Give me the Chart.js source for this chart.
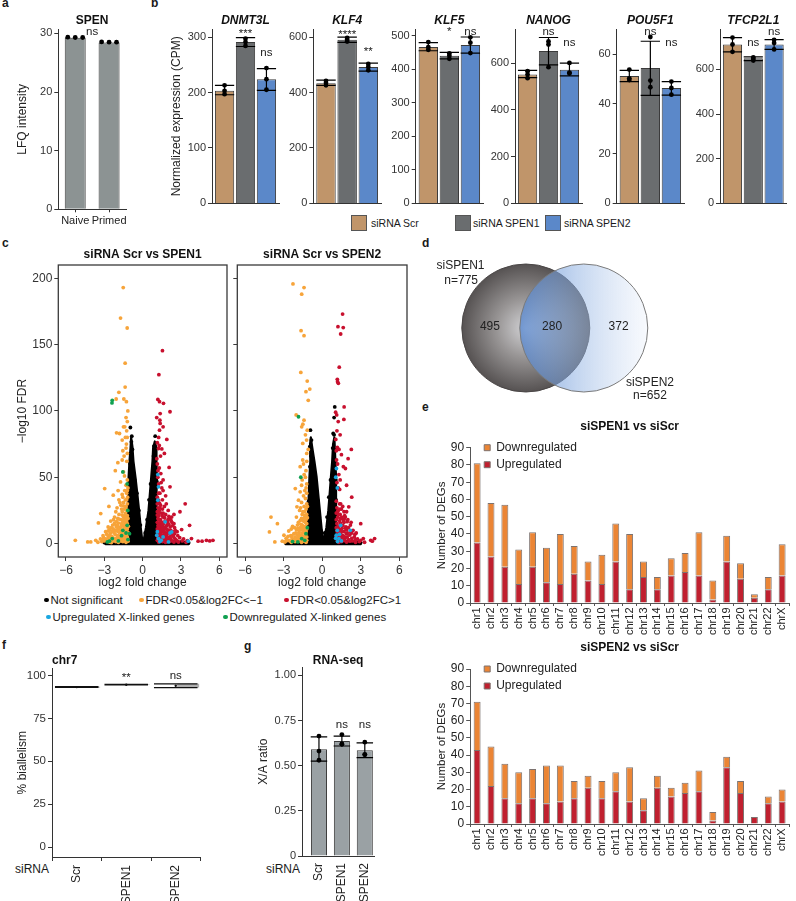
<!DOCTYPE html>
<html>
<head>
<meta charset="utf-8">
<title>SPEN knockdown figure</title>
<script src="https://cdn.jsdelivr.net/npm/chart.js@4.4.1/dist/chart.umd.min.js"></script>
<style>
html,body{margin:0;padding:0;background:#fff}
body{width:796px;height:901px;position:relative;overflow:hidden;font-family:'Liberation Sans',Arial,Helvetica,sans-serif;color:#1a1a1a}
canvas{position:absolute}
.t{position:absolute;white-space:nowrap;font-size:11px;line-height:14px}
.pl{font-weight:bold;font-size:12px}
.sw{position:absolute;width:16px;height:16px;border:1px solid #555;box-sizing:border-box}
.bl{font-size:10.5px}
.leg{position:absolute;display:flex;align-items:center;white-space:nowrap;font-size:11.5px;line-height:14px}
.leg i{display:inline-block;width:4.5px;height:4.5px;border-radius:50%;margin-right:2px}
</style>
</head>
<body>
<div class="t pl" style="left:2px;top:-4px">a</div>
<div class="t pl" style="left:151px;top:-4px">b</div>
<div class="t pl" style="left:2px;top:236px">c</div>
<div class="t pl" style="left:422px;top:236px">d</div>
<div class="t pl" style="left:422px;top:400px">e</div>
<div class="t pl" style="left:2px;top:638px">f</div>
<div class="t pl" style="left:244px;top:639px">g</div>

<div class="sw" style="left:351px;top:215px;background:#C0956A"></div>
<div class="t bl" id="bl0" style="left:371px;top:216px"></div>
<div class="sw" style="left:455px;top:215px;background:#6A6D6F"></div>
<div class="t bl" id="bl1" style="left:473px;top:216px"></div>
<div class="sw" style="left:545px;top:215px;background:#5B88C9"></div>
<div class="t bl" id="bl2" style="left:564px;top:216px"></div>

<div class="leg" style="left:44px;top:593px"><i style="background:#000"></i>Not significant</div>
<div class="leg" style="left:139px;top:593px"><i style="background:#F7A43A"></i>FDR&lt;0.05&amp;log2FC&lt;−1</div>
<div class="leg" style="left:284px;top:593px"><i style="background:#C8102E"></i>FDR&lt;0.05&amp;log2FC&gt;1</div>
<div class="leg" style="left:46px;top:610px"><i style="background:#1AA7E0"></i>Upregulated X-linked genes</div>
<div class="leg" style="left:223px;top:610px"><i style="background:#10A050"></i>Downregulated X-linked genes</div>

<div class="t" style="left:15px;top:862px;font-size:12px">siRNA</div>
<div class="t" style="left:266px;top:862px;font-size:12px">siRNA</div>

<script>
// ================= DATA =================
// a: SPEN protein
const aCategories = ['Naive', 'Primed'];
const aMeans = [29.25, 28.45];
const aPoints = [[29.35, 29.3, 29.3], [28.55, 28.5, 28.5]];
const aSig = ['ns'];
const aSigY = [30.2];

// b: marker genes
const bGenes = ['DNMT3L', 'KLF4', 'KLF5', 'NANOG', 'POU5F1', 'TFCP2L1'];
const bGroups = ['siRNA Scr', 'siRNA SPEN1', 'siRNA SPEN2'];
const bMeans = [[203, 291, 224], [433, 590, 492], [466, 440, 472], [552, 652, 572], [51.2, 54.4, 46.4], [711, 649, 711]];
const bErrLow = [[196, 283, 204], [426, 581, 477], [455, 431, 448], [538, 593, 546], [49.0, 43.4, 43.5], [678, 639, 689]];
const bErrHigh = [[213, 299, 243], [445, 600, 506], [479, 450, 496], [569, 710, 600], [53.5, 65.2, 49.0], [742, 656, 733]];
const bPoints = [
  [[213, 203, 197], [297, 291, 284], [244, 224, 205]],
  [[442, 434, 426], [597, 590, 584], [503, 492, 480]],
  [[481, 466, 458], [447, 440, 431], [495, 479, 448]],
  [[566, 552, 536], [693, 680, 583], [601, 560, 556]],
  [[53.8, 50.3, 49.6], [66.9, 49.4, 46.7], [49.0, 46.4, 43.7]],
  [[742, 711, 678], [653, 646, 639], [732, 718, 689]]
];
const bSigText = [['***', 'ns'], ['****', '**'], ['*', 'ns'], ['ns', 'ns'], ['ns', 'ns'], ['ns', 'ns']];
const bSigY = [[305, 272], [609, 547], [510, 511], [733, 688], [68.9, 64.7], [720, 767]];
const bYMax = [314, 628, 519, 745, 70, 779];
const bYStep = [100, 200, 100, 200, 20, 200];

// c: volcano plots  [log2FC, -log10 FDR]
const c1Cloud = [[-2.9,-0.5],[-2.9,1.0],[-2.0,1.6],[-1.2,2.5],[-1.15,12],[-1.13,25],[-1.12,37],[-1.1,50],[-1.03,62],[-0.95,72],[-0.9,80],[-0.8,73],[-0.72,62],[-0.56,50],[-0.41,37],[-0.28,25],[-0.15,12],[-0.03,2.5],[0.08,2.5],[0.26,12],[0.46,25],[0.56,37],[0.67,50],[0.77,62],[0.82,72],[0.95,77],[1.08,72],[1.08,62],[1.12,50],[1.08,37],[1.08,25],[1.08,12],[1.1,3],[2.0,1.8],[3.6,1.0],[3.6,-0.5]];
const c1NotSig = [[-0.96,87.5],[-0.88,76.7],[-0.85,81],[-0.93,68],[-0.8,71],[-0.98,60],[-1.08,45],[-1.12,30],[-1.14,18],[-0.62,48],[-0.45,38],[-0.3,25],[-0.18,14],[0.98,81],[0.88,73.5],[0.93,70.4],[0.85,66],[1.02,60],[1.1,47],[1.1,33],[1.1,18],[0.62,45],[0.5,33],[0.35,18],[0.2,8],[-3.0,0.8],[-2.7,1.2],[-2.4,1.5],[-2.1,1.8],[-1.7,2.2],[-1.4,2.6],[1.4,2.4],[1.8,2.0],[2.2,1.6],[2.6,1.2],[3.0,1.0],[3.3,0.8],[3.6,0.6]];
const c1Down = [[-1.52,193],[-1.73,170],[-1.21,162.5],[-1.37,136],[-1.37,118],[-1.86,114],[-2.07,109],[-1.47,109],[-1.27,107],[-1.16,100],[-1.3,95],[-1.2,92],[-1.4,88],[-1.5,88],[-1.25,85],[-2.04,83.5],[-1.81,83],[-1.35,80],[-1.21,80],[-1.6,78],[-1.27,75],[-1.3,72],[-1.55,70],[-1.2,68],[-1.45,66],[-1.6,63],[-1.24,62],[-1.94,61],[-2.14,55],[-1.5,54],[-1.42,51],[-1.2,48],[-1.73,46.5],[-1.3,44],[-1.15,42],[-2.97,41.5],[-1.4,40],[-1.25,38],[-1.6,37],[-2.3,36.5],[-1.18,35],[-1.35,33],[-1.86,33],[-1.5,31],[-1.2,30],[-1.7,29],[-1.3,28],[-2.64,28],[-2.0,27],[-1.45,26],[-1.22,25],[-1.6,24],[-1.35,23],[-3.28,22.6],[-1.85,22],[-1.2,21],[-2.2,20],[-1.5,20],[-1.3,19],[-1.7,18],[-1.25,17],[-2.5,17],[-1.4,16],[-3.46,15.6],[-1.9,15.5],[-1.2,15],[-1.55,14],[-2.1,14],[-1.3,13],[-2.7,12.5],[-1.75,12],[-1.45,12],[-1.2,11],[-2.3,11],[-1.6,10],[-1.35,10],[-2.0,9.5],[-2.9,9],[-1.25,9],[-1.5,8.5],[-1.8,8],[-2.5,8],[-1.2,7.5],[-2.15,7],[-1.4,7],[-1.65,6.5],[-3.1,6],[-1.3,6],[-1.95,6],[-2.4,5.5],[-1.5,5],[-1.2,5],[-2.7,5],[-1.8,4.5],[-2.2,4],[-1.35,4],[-1.6,3.5],[-3.3,3.5],[-2.0,3],[-2.5,3],[-1.25,3],[-2.8,2.5],[-1.45,2.5],[-3.67,2.5],[-5.27,2.5],[-1.75,2],[-2.3,2],[-3.0,2],[-1.15,1.8],[-2.1,1.5],[-1.55,1.5],[-4.3,1.3],[-4.06,1.3],[-2.6,1.2],[-3.5,1.0],[-1.9,1.0],[-1.3,1.0],[-2.45,0.8],[-1.15,19],[-1.4,21],[-1.65,15],[-1.9,11],[-2.05,12.5],[-1.35,14.5],[-1.55,17],[-1.75,9.5],[-2.25,8.5],[-1.15,8.5],[-1.85,5.5],[-2.6,6.5],[-2.35,14],[-1.65,26],[-1.95,19],[-2.7,9.5],[-1.12,13],[-1.28,11.5],[-1.7,3],[-2.0,1.8],[-2.9,3.5],[-3.2,1.5],[-1.45,4.5],[-1.95,4],[-2.2,15.5],[-2.45,12],[-2.05,16.5],[-1.85,18.5],[-1.6,21.5],[-1.48,18],[-1.38,11],[-1.62,8],[-1.88,9],[-2.12,10],[-2.35,9.5],[-2.58,10.5],[-2.82,7],[-3.05,4.5],[-2.65,3.5],[-2.35,2.5],[-1.98,5],[-1.72,5.5],[-1.52,6.5],[-1.28,7],[-1.18,4],[-1.58,2.2],[-1.82,3.2],[-2.18,2.8],[-2.52,4.8],[-2.75,1.8],[-3.15,2.8],[-1.42,14],[-1.68,13],[-1.95,13.5],[-2.28,18],[-1.32,26.5],[-1.5,28.5],[-1.78,31],[-2.1,24],[-1.25,33],[-1.55,35],[-1.92,40],[-1.2,40]];
const c1Up = [[1.55,145.4],[1.27,127.3],[1.19,108.7],[1.32,107],[1.63,105.7],[2.14,99.4],[1.37,98],[1.1,95],[1.35,93],[1.37,90.6],[1.6,88],[1.32,85.5],[1.25,80],[1.89,78.5],[1.15,76],[1.3,74],[1.24,71.7],[1.5,71.4],[1.7,68],[1.4,66],[1.11,64],[1.15,60],[2.07,57.4],[1.3,57],[1.2,55],[1.42,52.8],[1.19,50],[1.6,48],[1.45,46],[1.25,45],[2.14,42.8],[1.5,42],[1.35,38],[1.8,36],[1.15,35],[1.24,32.7],[3.33,30],[1.15,30],[1.4,29],[1.7,28],[1.2,27],[1.55,26],[1.3,25],[2.0,25],[1.15,24],[2.92,24],[1.45,23],[1.8,22],[1.25,21],[1.6,20],[2.27,20],[1.2,19],[2.1,19],[1.4,18],[1.75,17],[1.15,16],[1.5,16],[2.3,16],[1.3,15],[2.45,15],[1.9,14],[3.67,13.8],[1.2,13.5],[1.6,13],[1.4,12],[2.5,12],[1.15,11],[1.75,11],[3.05,10.6],[2.0,10],[1.3,10],[1.5,9],[2.7,9],[1.2,8.5],[1.85,8],[1.4,7.5],[2.2,7],[1.6,6.5],[1.15,6],[1.3,5.5],[2.4,5.5],[1.75,5],[1.5,4.5],[2.9,4.5],[1.2,4],[2.0,4],[3.82,3.8],[1.4,3.5],[2.6,3],[1.65,3],[1.15,2.5],[1.9,2.5],[4.99,2.5],[5.5,2.5],[2.3,2],[1.35,2],[3.1,2],[5.25,2.0],[4.34,1.8],[4.65,1.8],[1.55,1.5],[2.1,1.5],[1.25,1.2],[2.8,1.2],[1.8,1.0],[3.4,1.0],[1.35,27],[1.6,23],[1.25,18],[1.95,16],[1.45,13.5],[1.7,11.5],[2.15,12.5],[1.35,8],[1.6,9.5],[2.5,7.5],[1.9,6],[1.25,4.5],[2.2,3.5],[1.55,2.5],[2.05,20.5],[1.15,21.5],[2.35,9],[1.85,3.5],[1.28,23],[1.52,21],[1.72,19.5],[1.98,18],[2.22,17.5],[1.42,16.5],[1.62,15],[1.85,13],[2.05,14.5],[2.35,13.5],[1.28,12.5],[1.52,11],[1.92,10.5],[2.2,10],[2.55,10],[1.42,9.5],[1.7,8.5],[2.05,8],[2.4,6.5],[2.75,6],[1.5,6],[1.78,7],[1.22,7],[1.95,4.5],[2.15,5],[2.5,4],[3.2,3.5],[1.38,4.5],[1.62,4.5],[2.7,2],[3.5,2.2],[1.72,1.5],[2.45,1.2],[1.32,30.5],[1.55,33],[1.85,30],[1.25,38],[1.6,40],[2.45,22]];
const c1XUp = [[1.19,52],[1.24,42.8],[1.19,32.7],[1.76,16.4],[2.14,8],[2.27,8.8],[1.15,9],[1.6,5],[1.11,6.3],[1.24,3.8],[1.45,2.5],[1.35,1.5],[2.02,1.3],[3.57,1.8]];
const c1XDown = [[-2.38,108],[-2.4,106],[-1.55,54],[-1.21,45],[-1.16,25],[-1.21,13.8],[-1.55,10],[-1.3,8],[-1.03,7.5],[-1.65,6],[-2.38,3.8],[-1.15,3],[-1.9,2],[-2.6,1.8],[-2.76,1.3]];

const c2Cloud = [[-2.85,-0.5],[-2.85,1.0],[-2.0,1.6],[-1.2,2.5],[-1.14,12],[-1.09,25],[-1.04,37],[-0.99,50],[-0.92,62],[-0.94,75],[-0.88,80],[-0.78,73],[-0.6,62],[-0.43,50],[-0.3,37],[-0.18,25],[-0.05,12],[0.06,2.5],[0.12,2.5],[0.33,12],[0.48,25],[0.58,37],[0.68,50],[0.78,62],[0.85,75],[0.95,80],[1.03,62],[1.08,50],[1.08,37],[1.08,25],[1.08,12],[1.1,3],[2.0,1.8],[3.0,1.0],[3.0,-0.5]];
const c2NotSig = [[-0.91,85.5],[-0.83,78],[-0.96,73],[-0.88,66],[-0.95,58],[-1.0,45],[-1.05,32],[-1.1,20],[-0.5,45],[-0.35,33],[-0.22,20],[-0.1,10],[0.98,103],[0.93,95],[0.86,83],[0.93,82],[0.82,72],[1.0,62],[1.06,48],[1.08,33],[1.08,18],[0.65,48],[0.52,35],[0.38,20],[0.2,8],[-2.8,0.8],[-2.5,1.2],[-2.2,1.5],[-1.9,1.8],[-1.6,2.2],[-1.3,2.6],[1.35,2.4],[1.7,2.0],[2.1,1.6],[2.5,1.2],[2.8,1.0],[3.0,0.8]];
const c2Down = [[-2.27,195.7],[-1.41,193],[-1.59,188],[-1.64,160.5],[-1.41,156.7],[-1.66,129],[-1.16,122.5],[-0.96,116.5],[-1.26,114.5],[-1.08,108],[-2.02,97],[-1.41,93],[-1.5,90],[-1.59,88],[-1.16,85.5],[-1.3,82],[-1.21,78],[-1.51,75.5],[-1.08,71],[-1.2,68],[-1.51,63],[-1.2,62],[-1.45,60],[-1.71,58],[-1.26,55],[-1.4,52],[-1.3,50],[-1.55,48],[-1.2,45],[-1.6,44],[-1.25,42],[-2.09,41.5],[-1.35,40],[-1.71,39],[-1.2,38],[-1.45,36],[-1.3,34],[-1.84,32.7],[-1.6,31],[-1.2,30],[-1.4,28],[-1.96,27.7],[-1.25,26],[-1.75,25],[-1.5,24],[-1.2,22],[-1.35,21],[-2.0,20],[-3.98,20],[-1.6,19],[-1.25,18],[-1.45,17],[-1.85,16],[-1.2,15],[-3.48,15],[-1.55,14],[-2.3,13],[-1.35,13],[-1.7,12],[-1.2,11],[-2.0,10.5],[-1.45,10],[-2.6,9.5],[-1.25,9],[-4.1,8.8],[-1.8,8.5],[-1.55,8],[-2.2,7.5],[-1.3,7],[-1.9,6.5],[-2.97,6.3],[-2.45,6],[-1.45,5.5],[-1.2,5],[-2.1,5],[-1.7,4.5],[-2.8,4],[-1.35,4],[-1.95,3.5],[-2.3,3],[-1.55,3],[-1.2,2.5],[-2.6,2.5],[-1.8,2],[-3.1,1.8],[-1.4,1.8],[-2.1,1.5],[-3.68,1.3],[-2.9,1.2],[-1.6,1.0],[-2.4,1.0],[-1.25,1.0],[-1.15,19.5],[-1.65,14.5],[-1.3,16],[-1.9,11.5],[-1.5,12],[-2.35,4.5],[-1.75,6],[-1.35,24],[-1.15,28],[-1.42,19],[-1.7,17.5],[-1.92,14],[-2.15,12],[-2.4,11],[-1.58,10.5],[-1.32,11.5],[-1.78,10],[-2.05,8],[-2.35,6],[-2.65,5.5],[-1.62,6.5],[-1.38,8.5],[-1.88,4.5],[-2.15,3],[-2.5,2],[-1.5,3.5],[-1.72,2.5],[-2.8,2],[-1.28,20],[-1.55,22],[-1.68,27]];
const c2Up = [[1.59,173],[1.23,163.5],[1.64,162.8],[1.44,158],[1.33,133],[1.18,123.8],[1.2,122],[1.26,120.8],[1.71,103],[1.05,99],[1.13,97],[1.69,93.6],[1.25,92],[1.15,85],[1.4,82],[1.06,78.5],[1.18,72.5],[1.31,71],[2.27,71],[1.1,70],[1.5,67],[2.02,64],[1.12,63],[1.2,60],[1.65,58],[1.81,56.6],[1.3,52],[1.4,48],[1.15,46],[1.9,44],[1.25,42],[1.36,40.8],[2.3,35],[1.1,32],[1.35,30],[1.44,30],[1.6,28],[2.07,27.7],[1.15,27],[1.5,26],[1.25,25],[1.9,24],[1.1,23],[1.4,22],[1.75,21],[1.2,20],[1.8,20],[1.55,19],[1.1,18],[2.0,18],[1.35,17],[1.7,16],[1.15,15],[3.0,15],[1.45,14.5],[2.2,14],[1.25,13],[1.85,12.5],[1.1,12],[1.55,11.5],[1.35,10.5],[2.4,10],[1.15,9.5],[1.7,9],[1.95,8],[1.25,8],[1.45,7],[2.15,6.5],[1.6,6],[1.1,5.5],[1.3,5],[2.5,5],[1.8,4.5],[1.45,4],[3.2,3.8],[4.08,3.8],[2.75,3.5],[1.15,3.5],[2.05,3],[1.35,2.5],[1.65,2.5],[3.78,2.5],[2.35,2],[1.2,1.8],[3.9,1.8],[2.9,1.5],[1.5,1.5],[1.9,1.2],[2.6,1.0],[3.3,1.0],[1.3,1.0],[1.2,24],[1.65,17.5],[1.3,11],[1.9,10.5],[2.3,8],[1.55,4],[1.4,19],[2.55,7],[1.28,22],[1.52,20],[1.72,18.5],[1.95,16.5],[2.25,16],[1.42,15.5],[1.62,13.5],[1.82,11.5],[2.05,12],[1.28,10],[1.52,9],[1.88,7.5],[2.2,9],[2.65,8],[1.42,5.5],[1.7,5.5],[1.95,5],[2.3,4],[2.6,3],[1.28,3],[1.75,2.2],[2.15,1.8],[3.0,2.5],[1.38,26],[1.7,24]];
const c2XUp = [[1.11,56.6],[1.06,50],[1.18,42],[1.18,10],[1.44,13.8],[2.19,10],[1.35,7],[1.1,6.3],[1.05,4],[1.3,3.8],[1.5,2],[1.2,1.5]];
const c2XDown = [[-1.84,95.6],[-1.66,50],[-1.15,12],[-1.26,7.5],[-1.59,3.8],[-1.35,2.5],[-2.3,1.5],[-1.89,1.3]];

// d: Venn
const vennSets = ['siSPEN1', 'siSPEN2'];
const vennTotals = [775, 652];
const vennCounts = [495, 280, 372];

// e: DEGs per chromosome
const eChromosomes = ['chr1','chr2','chr3','chr4','chr5','chr6','chr7','chr8','chr9','chr10','chr11','chr12','chr13','chr14','chr15','chr16','chr17','chr18','chr19','chr20','chr21','chr22','chrX'];
const e1Up   = [35,27,21,11,21,12,11,17,13,11,24, 8,15, 8,16,18,16, 2,24,14, 3, 8,16];
const e1Down = [46,31,36,20,20,20,29,16,11,17,22,32, 9, 7,10,11,25,11,15, 9, 2, 7,18];
const e2Up   = [43,22,15,12,15,12,13,15,21,15,19,13, 8,21,16,18,19, 2,33,18, 4,12,13];
const e2Down = [28,23,20,18,17,22,21,10, 7,10,11,20, 7, 7, 5, 6,12, 5, 6, 7, 0, 4, 7];

// f: chr7 biallelism
const fGroups = ['Scr', 'SPEN1', 'SPEN2'];
const fMeans = [93.2, 94.6, 94.0];
const fErrLow = [93.0, 94.45, 92.9];
const fErrHigh = [93.4, 94.75, 95.1];
const fSig = ['', '**', 'ns'];
const fSigY = [0, 98.5, 100];

// g: X/A ratio
const gGroups = ['Scr', 'SPEN1', 'SPEN2'];
const gMeans = [0.591, 0.637, 0.586];
const gErrLow = [0.525, 0.609, 0.545];
const gErrHigh = [0.659, 0.664, 0.626];
const gPoints = [[0.664, 0.581, 0.53], [0.672, 0.618, 0.62], [0.63, 0.563, 0.56]];
const gSig = ['', 'ns', 'ns'];
const gSigY = [0, 0.724, 0.724];

// ================= RENDERING =================
const FONT = "'Liberation Sans', Arial, Helvetica, sans-serif";
Chart.defaults.font.family = FONT;
Chart.defaults.font.size = 11;
Chart.defaults.color = '#222';

bGroups.forEach((g, i) => { document.getElementById('bl' + i).textContent = g; });

function makeCanvas(left, top, w, h) {
  const c = document.createElement('canvas');
  c.width = w; c.height = h;
  c.style.left = left + 'px'; c.style.top = top + 'px';
  c.style.width = w + 'px'; c.style.height = h + 'px';
  document.body.appendChild(c);
  return c;
}
const base = { animation: false, responsive: false, devicePixelRatio: 1, events: [] };
function stepTicks(min, max, step) {
  const out = [];
  for (let k = Math.ceil(min / step - 1e-9); k * step <= max + 1e-9; k++) out.push({ value: +(k * step).toFixed(6) });
  return out;
}

function textPlugin(items, xAxis, size) {
  return {
    id: 'sigText',
    afterDatasetsDraw(chart) {
      const { ctx } = chart;
      const xs = chart.scales[xAxis], ys = chart.scales.y;
      ctx.save();
      ctx.font = size + 'px ' + FONT;
      ctx.fillStyle = '#222';
      ctx.textAlign = 'center';
      ctx.textBaseline = 'middle';
      items.forEach(it => { if (it.text) ctx.fillText(it.text, xs.getPixelForValue(it.x), ys.getPixelForValue(it.y)); });
      ctx.restore();
    }
  };
}

function barPanel(o) {
  const cv = makeCanvas(o.L, o.T, o.W, o.H);
  const bars = o.means.map((v, i) => ({ x: i + 1, y: v }));
  const err = [];
  if (o.lo) o.lo.forEach((l, i) => {
    const x = i + 1, h = o.hi[i], c = o.cap;
    err.push({ x, y: l }, { x, y: h }, { x, y: null },
             { x: x - c, y: h }, { x: x + c, y: h }, { x, y: null },
             { x: x - c, y: l }, { x: x + c, y: l }, { x, y: null });
  });
  const pts = [];
  o.pts.forEach((arr, i) => arr.forEach((v, j) => pts.push({ x: i + 1 + o.jit[j], y: v })));
  new Chart(cv, {
    type: 'bar',
    data: { datasets: [
      { type: 'scatter', data: pts, pointRadius: 2.4, pointBackgroundColor: '#000', pointBorderWidth: 0 },
      { type: 'line', data: err, borderColor: '#000', borderWidth: 1.2, pointRadius: 0, spanGaps: false, fill: false },
      { type: 'bar', data: bars, backgroundColor: o.colors, borderColor: '#3b3b3b', borderWidth: 1, barPercentage: o.barPct, categoryPercentage: 1 }
    ]},
    options: Object.assign({}, base, {
      layout: { padding: { left: 0, top: o.pt, right: o.pr, bottom: o.pb } },
      plugins: {
        legend: { display: false }, tooltip: { enabled: false },
        title: { display: true, text: o.title, fullSize: false, align: o.titleAlign || 'center',
                 font: { size: 12, weight: 'bold', style: o.italic ? 'italic' : 'normal' }, color: '#111',
                 padding: { top: 0, bottom: o.tpb } }
      },
      scales: {
        x: { type: 'linear', min: o.xmin, max: o.xmax, offset: false,
             afterBuildTicks: s => { s.ticks = o.cats.map((_, i) => ({ value: i + 1 })); },
             ticks: { display: o.showX, autoSkip: false,
                      callback: v => o.cats[Math.round(v) - 1] || '',
                      minRotation: o.rot, maxRotation: o.rot, font: { size: o.xFont || 11 }, color: '#222', padding: o.xPad },
             grid: { offset: false, drawOnChartArea: false, drawTicks: o.xTicks, tickLength: 3, color: '#333' },
             border: { display: true, color: '#333', width: 1 },
             afterFit: s => { s.height = o.xh; } },
        y: { min: o.ymin, max: o.ymax,
             afterBuildTicks: s => { s.ticks = stepTicks(o.ymin, o.ymax, o.ystep); },
             ticks: { autoSkip: false, font: { size: 11 }, color: '#333', padding: 2, callback: o.yfmt || (v => String(v)) },
             grid: { drawOnChartArea: false, tickLength: 4, color: '#333' },
             border: { display: true, color: '#333', width: 1 },
             title: { display: !!o.ytitle, text: o.ytitle || '', font: { size: 12 }, color: '#222', padding: 0 },
             afterFit: s => { s.width = o.yw; } }
      }
    }),
    plugins: [textPlugin(o.sig, 'x', 11.5)]
  });
}

// ----- panel a -----
barPanel({
  L: 15, T: 0, W: 115, H: 232, pt: 13, pr: 3.5, pb: 0.7, tpb: 1.9, yw: 43.3, xh: 22,
  title: 'SPEN', cats: aCategories, means: aMeans, pts: aPoints, jit: [-0.22, 0, 0.22],
  colors: ['#8C9393', '#8C9393'], barPct: 0.62, xmin: 0.5, xmax: 2.5, ymin: 0, ymax: 30.7, ystep: 10,
  showX: true, rot: 0, xTicks: true, xPad: 2, ytitle: 'LFQ intensity',
  sig: [{ x: 1.5, y: aSigY[0], text: aSig[0] }]
});

// ----- panel b -----
const bLayout = [
  { L: 169, axis: 212, right: 281 },
  { L: 285, axis: 313.3, right: 382.3 },
  { L: 387, axis: 415.7, right: 486 },
  { L: 486, axis: 515, right: 584.7 },
  { L: 588, axis: 616.7, right: 686.5 },
  { L: 691, axis: 720, right: 786.6 }
];
bGenes.forEach((gene, k) => {
  const lay = bLayout[k];
  const W = k === 0 ? 114 : 100;
  barPanel({
    L: lay.L, T: 0, W, H: 212, pt: 13, pr: lay.L + W - lay.right, pb: 2.7, tpb: 1.9, yw: lay.axis - lay.L, xh: 0,
    title: gene, italic: true, cats: bGroups, means: bMeans[k], lo: bErrLow[k], hi: bErrHigh[k], cap: 0.46,
    pts: bPoints[k], jit: [0, 0, 0], colors: ['#C0956A', '#6A6D6F', '#5B88C9'], barPct: 0.92,
    xmin: 0.4, xmax: 3.6, ymin: 0, ymax: bYMax[k], ystep: bYStep[k],
    showX: false, rot: 0, xTicks: false, xPad: 0, ytitle: k === 0 ? 'Normalized expression (CPM)' : null,
    sig: [{ x: 2, y: bSigY[k][0], text: bSigText[k][0] }, { x: 3, y: bSigY[k][1], text: bSigText[k][1] }]
  });
});

// ----- panel c -----
function volcano(o) {
  const cv = makeCanvas(o.L, o.T, o.W, o.H);
  const toXY = a => a.map(p => ({ x: p[0], y: p[1] }));
  const mk = (arr, color) => ({ type: 'scatter', data: toXY(arr), pointRadius: 1.9, pointBackgroundColor: color, pointBorderWidth: 0 });
  const cloudPlugin = {
    id: 'cloud',
    beforeDatasetsDraw(chart) {
      const { ctx, chartArea: a, scales: { x, y } } = chart;
      ctx.save();
      ctx.beginPath(); ctx.rect(a.left, a.top, a.width, a.height); ctx.clip();
      ctx.beginPath();
      o.cloud.forEach((p, i) => {
        const px = x.getPixelForValue(p[0]), py = y.getPixelForValue(p[1]);
        if (i) ctx.lineTo(px, py); else ctx.moveTo(px, py);
      });
      ctx.closePath();
      ctx.fillStyle = '#000'; ctx.fill();
      ctx.lineWidth = 2.2; ctx.lineJoin = 'round'; ctx.strokeStyle = '#000'; ctx.stroke();
      ctx.restore();
    }
  };
  const framePlugin = {
    id: 'frame',
    afterDatasetsDraw(chart) {
      const { ctx, chartArea: a } = chart;
      ctx.save(); ctx.strokeStyle = '#3a3a3a'; ctx.lineWidth = 1.3;
      ctx.strokeRect(a.left, a.top, a.width, a.height); ctx.restore();
    }
  };
  const fmt = v => v < 0 ? '\u2212' + (-v) : String(v);
  new Chart(cv, {
    type: 'scatter',
    data: { datasets: [mk(o.green, '#10A050'), mk(o.blue, '#1AA7E0'), mk(o.red, '#C8102E'), mk(o.orange, '#F7A43A'), mk(o.black, '#000')] },
    options: Object.assign({}, base, {
      layout: { padding: { left: 0, top: o.pt, right: o.pr, bottom: 0 } },
      plugins: {
        legend: { display: false }, tooltip: { enabled: false },
        title: { display: true, text: o.title, fullSize: false, font: { size: 12, weight: 'bold' }, color: '#111', padding: { top: 0, bottom: o.tpb } }
      },
      scales: {
        x: { type: 'linear', min: -6.6, max: 6.6,
             afterBuildTicks: s => { s.ticks = stepTicks(-6.6, 6.6, 3); },
             ticks: { font: { size: 12 }, color: '#333', padding: 2, callback: fmt },
             grid: { drawOnChartArea: false, tickLength: 4, color: '#3a3a3a' }, border: { display: false },
             title: { display: true, text: 'log2 fold change', font: { size: 12 }, color: '#222', padding: { top: 0, bottom: 2 } },
             afterFit: s => { s.height = 35; } },
        y: { type: 'linear', min: -10.1, max: 210,
             afterBuildTicks: s => { s.ticks = stepTicks(-10.1, 210, 50); },
             ticks: { display: o.showY, font: { size: 12 }, color: '#333', padding: 2 },
             grid: { drawOnChartArea: false, tickLength: 4, color: '#3a3a3a' }, border: { display: false },
             title: { display: o.showY, text: '\u2212log10 FDR', font: { size: 12 }, color: '#222', padding: 0 },
             afterFit: s => { s.width = o.yw; } }
      }
    }),
    plugins: [cloudPlugin, framePlugin]
  });
}
volcano({ L: 15, T: 236, W: 216, H: 356, pt: 11.1, tpb: 3.5, pr: 1, yw: 43.3, showY: true,
  title: 'siRNA Scr vs SPEN1', cloud: c1Cloud, black: c1NotSig, orange: c1Down, red: c1Up, blue: c1XUp, green: c1XDown });
volcano({ L: 230, T: 236, W: 181, H: 356, pt: 11.1, tpb: 3.5, pr: 2.7, yw: 7.3, showY: false,
  title: 'siRNA Scr vs SPEN2', cloud: c2Cloud, black: c2NotSig, orange: c2Down, red: c2Up, blue: c2XUp, green: c2XDown });

// ----- panel d: Venn -----
(function () {
  const cv = makeCanvas(430, 245, 270, 165);
  const unitR = c => { const xs = c.chart.scales.x; return xs.getPixelForValue(1) - xs.getPixelForValue(0); };
  const center = c => ({ cx: c.chart.scales.x.getPixelForValue(c.raw.x), cy: c.chart.scales.y.getPixelForValue(c.raw.y) });
  const leftFill = c => {
    if (!c.raw || !c.chart.chartArea) return '#777';
    const { cx, cy } = center(c), r = unitR(c);
    const g = c.chart.ctx.createRadialGradient(cx, cy, 0, cx, cy, r);
    g.addColorStop(0, '#d2d2d5'); g.addColorStop(0.45, '#999696'); g.addColorStop(1, '#565252');
    return g;
  };
  const rightFill = c => {
    if (!c.raw || !c.chart.chartArea) return '#aac';
    const { cx, cy } = center(c), r = unitR(c);
    const g = c.chart.ctx.createLinearGradient(cx - r, cy, cx + r, cy);
    g.addColorStop(0, 'rgba(80,132,210,0.72)'); g.addColorStop(0.5, 'rgba(150,182,228,0.5)'); g.addColorStop(1, 'rgba(234,240,250,0.35)');
    return g;
  };
  const labels = [
    { x: -1.02, y: 0.97, text: vennSets[0] }, { x: -1.01, y: 0.74, text: 'n=' + vennTotals[0] },
    { x: -0.56, y: 0.02, text: String(vennCounts[0]) }, { x: 0.41, y: 0.02, text: String(vennCounts[1]) },
    { x: 1.45, y: 0.02, text: String(vennCounts[2]) },
    { x: 1.94, y: -0.85, text: vennSets[1] }, { x: 1.94, y: -1.06, text: 'n=' + vennTotals[1] }
  ];
  new Chart(cv, {
    type: 'scatter',
    data: { datasets: [
      { label: vennSets[0], data: [{ x: 0, y: 0 }], pointRadius: unitR, pointBackgroundColor: leftFill, pointBorderColor: '#4a4646', pointBorderWidth: 1, order: 1, clip: false },
      { label: vennSets[1], data: [{ x: 0.906, y: 0 }], pointRadius: unitR, pointBackgroundColor: rightFill, pointBorderColor: '#7a7a7a', pointBorderWidth: 1, order: 0, clip: false }
    ]},
    options: Object.assign({}, base, {
      layout: { padding: { left: 19, top: 19, right: 33.4, bottom: 18 } },
      plugins: { legend: { display: false }, tooltip: { enabled: false } },
      scales: { x: { display: false, min: -1.2, max: 2.2 }, y: { display: false, min: -1, max: 1 } }
    }),
    plugins: [textPlugin(labels, 'x', 12)]
  });
})();

// ----- panel e -----
const legendShift = {
  id: 'legendShift',
  afterLayout(chart) {
    const l = chart.legend; if (!l) return;
    const dx = chart.chartArea.left + 9 - l.left;
    const dy = chart.chartArea.top - 11 - l.top;
    l.left += dx; l.right += dx; l.top += dy; l.bottom += dy;
  }
};
function degChart(o) {
  const cv = makeCanvas(o.L, o.T, o.W, o.H);
  new Chart(cv, {
    type: 'bar',
    data: { labels: eChromosomes, datasets: [
      { label: 'Upregulated', data: o.up, backgroundColor: '#C0202F', borderColor: '#7d7370', borderWidth: 1, barPercentage: 0.5, categoryPercentage: 1 },
      { label: 'Downregulated', data: o.down, backgroundColor: '#EB8535', borderColor: '#7d7370', borderWidth: 1, barPercentage: 0.5, categoryPercentage: 1 }
    ]},
    options: Object.assign({}, base, {
      layout: { padding: { left: 0, top: o.pt, right: 0, bottom: 0 } },
      plugins: {
        tooltip: { enabled: false },
        legend: { display: true, position: 'chartArea', align: 'start', reverse: true,
                  labels: { boxWidth: 6, boxHeight: 6, padding: 5, font: { size: 12 }, color: '#222' } },
        title: { display: true, text: o.title, fullSize: false, font: { size: 12, weight: 'bold' }, color: '#111', padding: { top: 0, bottom: o.tpb } }
      },
      scales: {
        x: { stacked: true,
             ticks: { autoSkip: false, minRotation: 90, maxRotation: 90, font: { size: 11 }, color: '#222', padding: 1.5 },
             grid: { offset: true, drawOnChartArea: false, tickLength: 3, color: '#555' },
             border: { display: true, color: '#555' },
             afterFit: s => { s.height = 35; } },
        y: { stacked: true, min: 0, max: 90,
             afterBuildTicks: s => { s.ticks = stepTicks(0, 90, 10); },
             ticks: { autoSkip: false, font: { size: 12 }, color: '#222', padding: 2 },
             grid: { drawOnChartArea: false, tickLength: 4, color: '#555' },
             border: { display: true, color: '#555' },
             title: { display: true, text: 'Number of DEGs', font: { size: 11.5 }, color: '#222', padding: 0 },
             afterFit: s => { s.width = 35.2; } }
      }
    }),
    plugins: [legendShift]
  });
}
degChart({ L: 435, T: 412, W: 362, H: 226, pt: 7.5, tpb: 13.8, title: 'siSPEN1 vs siScr', up: e1Up, down: e1Down });
degChart({ L: 435, T: 633, W: 362, H: 226, pt: 7.8, tpb: 13.8, title: 'siSPEN2 vs siScr', up: e2Up, down: e2Down });

// ----- panel f -----
(function () {
  const cv = makeCanvas(15, 649, 191, 252);
  const caps = [];
  fErrLow.forEach((l, i) => {
    const x = i + 1, h = fErrHigh[i], c = 0.44;
    caps.push({ x: x - c, y: h }, { x: x + c, y: h }, { x, y: null }, { x: x - c, y: l }, { x: x + c, y: l }, { x, y: null });
  });
  const sig = fSig.map((s, i) => ({ x: i + 1, y: fSigY[i], text: s }));
  new Chart(cv, {
    type: 'bar',
    data: { labels: fGroups, datasets: [
      { type: 'scatter', xAxisID: 'x2', data: fMeans.map((v, i) => ({ x: i + 1, y: v })), pointRadius: 1.2, pointBackgroundColor: '#111', pointBorderWidth: 0 },
      { type: 'line', xAxisID: 'x2', data: caps, borderColor: '#111', borderWidth: 1.3, pointRadius: 0, spanGaps: false, fill: false },
      { type: 'bar', data: fErrLow.map((l, i) => [l, fErrHigh[i]]), backgroundColor: 'rgba(150,150,150,0.75)', borderWidth: 0, barPercentage: 0.89, categoryPercentage: 1 }
    ]},
    options: Object.assign({}, base, {
      layout: { padding: { left: 0, top: 4, right: 5.5, bottom: 0 } },
      plugins: {
        legend: { display: false }, tooltip: { enabled: false },
        title: { display: true, text: 'chr7', fullSize: false, align: 'start', font: { size: 12, weight: 'bold' }, color: '#111', padding: { top: 0, bottom: 1 } }
      },
      scales: {
        x: { ticks: { autoSkip: false, minRotation: 90, maxRotation: 90, font: { size: 12 }, color: '#222', padding: 4 },
             grid: { offset: true, drawOnChartArea: false, tickLength: 4, color: '#333' },
             border: { display: true, color: '#333' },
             afterFit: s => { s.height = 44; } },
        x2: { type: 'linear', display: false, min: 0.5, max: 3.5, offset: false, grid: { offset: false } },
        y: { min: -5.8, max: 104.1,
             afterBuildTicks: s => { s.ticks = stepTicks(-5.8, 104.1, 25); },
             ticks: { autoSkip: false, font: { size: 11.5 }, color: '#333', padding: 2 },
             grid: { drawOnChartArea: false, tickLength: 4, color: '#333' },
             border: { display: true, color: '#333' },
             title: { display: true, text: '% biallelism', font: { size: 12 }, color: '#222', padding: 0 },
             afterFit: s => { s.width = 37; } }
      }
    }),
    plugins: [textPlugin(sig, 'x2', 11.5)]
  });
})();

// ----- panel g -----
barPanel({
  L: 256, T: 649, W: 132, H: 252, pt: 4, pr: 5, pb: 0, tpb: 0, yw: 46, xh: 45,
  title: 'RNA-seq', cats: gGroups, means: gMeans, lo: gErrLow, hi: gErrHigh, cap: 0.36,
  pts: gPoints, jit: [0, 0, 0], colors: ['#9AA1A4', '#9AA1A4', '#9AA1A4'], barPct: 0.7,
  xmin: 0.26, xmax: 3.41, ymin: 0, ymax: 1.044, ystep: 0.25, yfmt: v => v === 0 ? '0' : v.toFixed(2),
  showX: true, rot: 90, xTicks: false, xPad: 7, xFont: 12, ytitle: 'X/A ratio',
  sig: gSig.map((s, i) => ({ x: i + 1, y: gSigY[i], text: s }))
});
</script>
</body>
</html>
